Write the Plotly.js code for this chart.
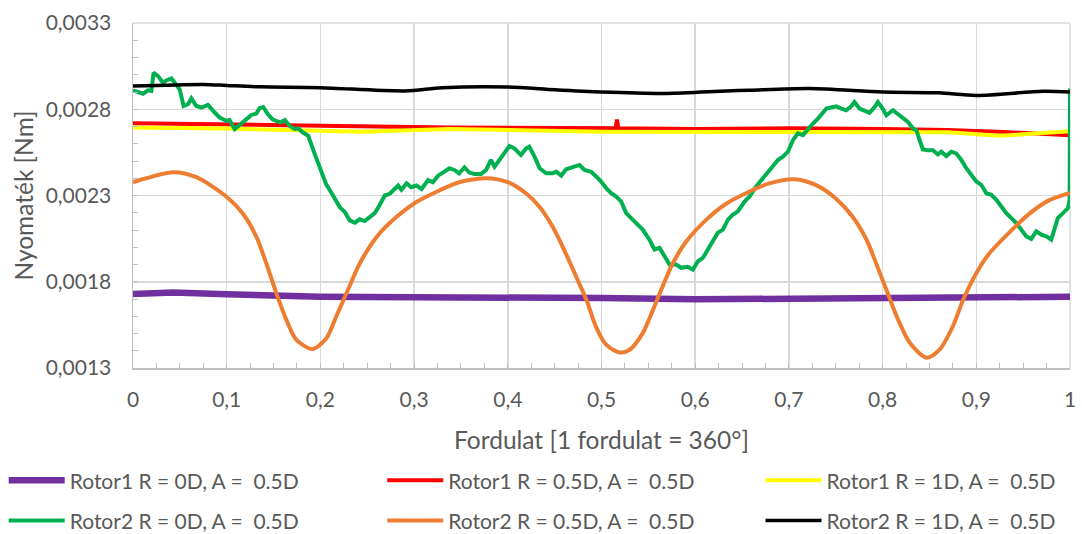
<!DOCTYPE html>
<html>
<head>
<meta charset="utf-8">
<script src="https://cdn.plot.ly/plotly-3.0.1.min.js"></script>
<style>html,body{margin:0;padding:0;background:#fff;}#chart{width:1082px;height:534px;}</style>
</head>
<body>
<div id="chart"></div>
<script>
// Series names
const names = [
  "Rotor1 R = 0D, A =  0.5D",
  "Rotor1 R = 0.5D, A =  0.5D",
  "Rotor1 R = 1D, A =  0.5D",
  "Rotor2 R = 0D, A =  0.5D",
  "Rotor2 R = 0.5D, A =  0.5D",
  "Rotor2 R = 1D, A =  0.5D"
];

// Rotor1 R = 0D
const r1_0_x = [0, 0.043, 0.1, 0.2, 0.3, 0.4, 0.5, 0.6, 0.7, 0.8, 0.9, 1.0];
const r1_0_y = [0.001729, 0.001737, 0.001728, 0.001713, 0.00171, 0.00171, 0.001706, 0.001698, 0.001702, 0.001708, 0.001710, 0.001713];

// Rotor1 R = 0.5D
const r1_05_x = [0, 0.1, 0.2, 0.338, 0.45, 0.515, 0.5165, 0.518, 0.6, 0.7, 0.8, 0.87, 0.93, 1.0];
const r1_05_y = [0.002719, 0.002714, 0.002705, 0.002694, 0.00269, 0.00269, 0.00274, 0.00269, 0.002686, 0.00269, 0.002685, 0.00268, 0.002668, 0.00265];

// Rotor1 R = 1D
const r1_1_x = [0, 0.1, 0.245, 0.338, 0.5, 0.6, 0.7, 0.8, 0.87, 0.925, 1.0];
const r1_1_y = [0.002694, 0.002688, 0.00267, 0.002685, 0.00267, 0.00267, 0.00267, 0.00267, 0.002666, 0.002646, 0.002672];

// Rotor2 R = 0D
const r2_0_x = [0, 0.0053, 0.0107, 0.016, 0.0196, 0.022, 0.0267, 0.032, 0.0356, 0.041, 0.0445, 0.0498, 0.054, 0.0587, 0.0623, 0.0676, 0.073, 0.08, 0.0872, 0.0925, 0.0996, 0.103, 0.1085, 0.114, 0.121, 0.1263, 0.1317, 0.135, 0.139, 0.144, 0.149, 0.157, 0.162, 0.167, 0.1726, 0.176, 0.1815, 0.187, 0.194, 0.199, 0.206, 0.2135, 0.2206, 0.226, 0.2313, 0.2367, 0.242, 0.2473, 0.2527, 0.258, 0.263, 0.2687, 0.274, 0.2776, 0.283, 0.2865, 0.292, 0.297, 0.3025, 0.308, 0.315, 0.32, 0.3256, 0.3324, 0.3377, 0.343, 0.348, 0.3537, 0.359, 0.3644, 0.3715, 0.3769, 0.382, 0.3858, 0.391, 0.3964, 0.4018, 0.407, 0.414, 0.4196, 0.423, 0.4285, 0.434, 0.441, 0.448, 0.4516, 0.457, 0.4623, 0.4694, 0.4765, 0.4819, 0.489, 0.4943, 0.4996, 0.505, 0.5103, 0.5157, 0.521, 0.5263, 0.5317, 0.537, 0.544, 0.5512, 0.5566, 0.562, 0.567, 0.5726, 0.5797, 0.585, 0.592, 0.5975, 0.603, 0.6082, 0.6135, 0.619, 0.624, 0.6295, 0.635, 0.64, 0.6456, 0.6527, 0.658, 0.665, 0.6722, 0.6776, 0.683, 0.6883, 0.6936, 0.699, 0.7043, 0.7096, 0.715, 0.7203, 0.7256, 0.731, 0.7345, 0.74, 0.745, 0.7505, 0.756, 0.761, 0.7665, 0.77, 0.7754, 0.7808, 0.786, 0.7915, 0.795, 0.8, 0.804, 0.811, 0.8164, 0.8217, 0.827, 0.8324, 0.836, 0.8395, 0.843, 0.8484, 0.8537, 0.859, 0.8626, 0.868, 0.8733, 0.8786, 0.884, 0.8893, 0.8947, 0.9, 0.9053, 0.9107, 0.916, 0.9214, 0.9267, 0.932, 0.9374, 0.9427, 0.948, 0.9534, 0.9587, 0.964, 0.9694, 0.9747, 0.98, 0.9836, 0.987, 0.9925, 0.9978, 0.9996, 1.0];
const r2_0_y = [0.00291, 0.002902, 0.00289, 0.00291, 0.002906, 0.003012, 0.002992, 0.002954, 0.002967, 0.002979, 0.002954, 0.002915, 0.002819, 0.002829, 0.002863, 0.002819, 0.00281, 0.002825, 0.002781, 0.002752, 0.002733, 0.002737, 0.002685, 0.00271, 0.002742, 0.002767, 0.002775, 0.002806, 0.002813, 0.002771, 0.002742, 0.002723, 0.002737, 0.002704, 0.002685, 0.00269, 0.002665, 0.002646, 0.00254, 0.002463, 0.002367, 0.0023, 0.002233, 0.002204, 0.002156, 0.002142, 0.002162, 0.002152, 0.002175, 0.002198, 0.002242, 0.0023, 0.00231, 0.002329, 0.002358, 0.002333, 0.002371, 0.002348, 0.002358, 0.002338, 0.00239, 0.002377, 0.002415, 0.002438, 0.002458, 0.002448, 0.002429, 0.002463, 0.002433, 0.002425, 0.002425, 0.002448, 0.002506, 0.002467, 0.002506, 0.002554, 0.002587, 0.002573, 0.002535, 0.002573, 0.002583, 0.002525, 0.002458, 0.002429, 0.002429, 0.002438, 0.002415, 0.002452, 0.002467, 0.002477, 0.002448, 0.002438, 0.00241, 0.002381, 0.002342, 0.002313, 0.002294, 0.002265, 0.002198, 0.002169, 0.00214, 0.002102, 0.002044, 0.001987, 0.001996, 0.001948, 0.0019, 0.0019, 0.001881, 0.001887, 0.001871, 0.001919, 0.001938, 0.001987, 0.002035, 0.002083, 0.002102, 0.00216, 0.002188, 0.002208, 0.002265, 0.002294, 0.002352, 0.0024, 0.002438, 0.002477, 0.002506, 0.002525, 0.002554, 0.002621, 0.00266, 0.00265, 0.002688, 0.002717, 0.002746, 0.002771, 0.002804, 0.00281, 0.002817, 0.002804, 0.002794, 0.002817, 0.002842, 0.002804, 0.002794, 0.002779, 0.002813, 0.002842, 0.002804, 0.002765, 0.002794, 0.002769, 0.002746, 0.002727, 0.002688, 0.002679, 0.002621, 0.002567, 0.002563, 0.002563, 0.002538, 0.002554, 0.002529, 0.002554, 0.002544, 0.002506, 0.002458, 0.002419, 0.002381, 0.002362, 0.002313, 0.002304, 0.002275, 0.002236, 0.002198, 0.002169, 0.00214, 0.002102, 0.002063, 0.002048, 0.002092, 0.002073, 0.002063, 0.002044, 0.002102, 0.002169, 0.002198, 0.002227, 0.002275, 0.00292];

// Rotor2 R = 0.5D
const r2_05_x = [0, 0.043, 0.0676, 0.1004, 0.1174, 0.1317, 0.1423, 0.153, 0.1637, 0.1744, 0.1915, 0.2064, 0.217, 0.2278, 0.242, 0.26, 0.281, 0.3025, 0.327, 0.348, 0.377, 0.4, 0.42, 0.434, 0.448, 0.462, 0.473, 0.484, 0.494, 0.505, 0.519, 0.53, 0.544, 0.555, 0.565, 0.576, 0.59, 0.612, 0.633, 0.658, 0.679, 0.706, 0.729, 0.75, 0.768, 0.783, 0.793, 0.804, 0.815, 0.829, 0.847, 0.861, 0.875, 0.886, 0.9, 0.914, 0.936, 0.957, 0.978, 1.0];
const r2_05_y = [0.002377, 0.002435, 0.002406, 0.00229, 0.002194, 0.00206, 0.001906, 0.001733, 0.001579, 0.001463, 0.00141, 0.001473, 0.0016, 0.001733, 0.001906, 0.00206, 0.002175, 0.002262, 0.002329, 0.002377, 0.0024, 0.002377, 0.00231, 0.002233, 0.002117, 0.001963, 0.001829, 0.001694, 0.00154, 0.001435, 0.00139, 0.001406, 0.001502, 0.001637, 0.00177, 0.001906, 0.00203, 0.00216, 0.002252, 0.002323, 0.00237, 0.002394, 0.00236, 0.002283, 0.002177, 0.002042, 0.001908, 0.001754, 0.0016, 0.001446, 0.00136, 0.001408, 0.001542, 0.001696, 0.00185, 0.001965, 0.00209, 0.002196, 0.002273, 0.002315];

// Rotor2 R = 1D
const r2_1_x = [0, 0.075, 0.1, 0.135, 0.2, 0.29, 0.33, 0.4, 0.45, 0.5, 0.569, 0.633, 0.658, 0.722, 0.8, 0.86, 0.9, 0.971, 1.0];
const r2_1_y = [0.002935, 0.002944, 0.002938, 0.00293, 0.002925, 0.002906, 0.002925, 0.002929, 0.002913, 0.0029, 0.002892, 0.002906, 0.00291, 0.00292, 0.0029, 0.002895, 0.00288, 0.002904, 0.0029];

// Axis ticks
const yTicks = [0.0013, 0.0018, 0.0023, 0.0028, 0.0033];
const yTickText = ["0,0013", "0,0018", "0,0023", "0,0028", "0,0033"];
const xTicks = [0, 0.1, 0.2, 0.3, 0.4, 0.5, 0.6, 0.7, 0.8, 0.9, 1];
const xTickText = ["0", "0,1", "0,2", "0,3", "0,4", "0,5", "0,6", "0,7", "0,8", "0,9", "1"];

const colors = ["#7030a0", "#ff0000", "#ffff00", "#00b050", "#ed7d31", "#000000"];
const widths = [6.5, 4, 4, 4, 4, 3.5];
const shapes = ["linear", "linear", "linear", "linear", "spline", "spline"];
const legendIds = ["legend", "legend2", "legend3", "legend", "legend2", "legend3"];
const xs = [r1_0_x, r1_05_x, r1_1_x, r2_0_x, r2_05_x, r2_1_x];
const ys = [r1_0_y, r1_05_y, r1_1_y, r2_0_y, r2_05_y, r2_1_y];

const FONT = "Lato, 'Open Sans', sans-serif";
const TXT = "#595959";

const traces = names.map((n, i) => ({
  type: "scatter", mode: "lines", name: n,
  x: xs[i], y: ys[i],
  line: {color: colors[i], width: widths[i], shape: shapes[i], smoothing: 0.8},
  legend: legendIds[i],
  legendgroup: "g" + i,
  hoverinfo: "skip"
}));

const legendBase = {
  orientation: "v", xanchor: "left", yanchor: "top",
  y: -0.2671, font: {family: FONT, size: 21, color: TXT},
  bgcolor: "rgba(0,0,0,0)", itemwidth: 56, tracegroupgap: 10,
  itemclick: false, itemdoubleclick: false
};

const layout = {
  width: 1082, height: 534,
  margin: {l: 133, r: 12, t: 23, b: 166, pad: 0, autoexpand: false},
  paper_bgcolor: "#ffffff", plot_bgcolor: "#ffffff",
  font: {family: FONT, color: TXT, size: 21},
  showlegend: true,
  legend: Object.assign({}, legendBase, {x: -0.138}),
  legend2: Object.assign({}, legendBase, {x: 0.266}),
  legend3: Object.assign({}, legendBase, {x: 0.6697}),
  xaxis: {
    range: [0, 1], tickmode: "array", tickvals: xTicks, ticktext: xTickText,
    showgrid: true, gridcolor: "#d9d9d9", gridwidth: 1.5,
    showline: true, linecolor: "#bfbfbf", linewidth: 1.5,
    ticks: "inside", ticklen: 5, tickcolor: "#bfbfbf",
    minor: {dtick: 0.025, ticks: "inside", ticklen: 5, tickcolor: "#bfbfbf", showgrid: false},
    zeroline: false, ticklabelstandoff: 12,
    tickfont: {family: FONT, size: 21, color: TXT},
    title: {text: "Fordulat [1 fordulat = 360°]", font: {family: FONT, size: 24.5, color: TXT}, standoff: 22},
    automargin: false, fixedrange: true
  },
  yaxis: {
    range: [0.0013, 0.0033], tickmode: "array", tickvals: yTicks, ticktext: yTickText,
    showgrid: true, gridcolor: "#d9d9d9", gridwidth: 1.5,
    showline: true, linecolor: "#bfbfbf", linewidth: 1.5,
    ticks: "inside", ticklen: 5, tickcolor: "#bfbfbf",
    minor: {dtick: 0.0001, ticks: "inside", ticklen: 5, tickcolor: "#bfbfbf", showgrid: false},
    zeroline: false, ticklabelstandoff: 16,
    tickfont: {family: FONT, size: 21, color: TXT},
    title: {text: "Nyomaték [Nm]", font: {family: FONT, size: 24.5, color: TXT}, standoff: 5},
    automargin: false, fixedrange: true
  },
  shapes: [
    {type: "line", xref: "paper", yref: "paper", x0: 1, x1: 1, y0: 0, y1: 1, line: {color: "#d9d9d9", width: 1.5}, layer: "below"},
    {type: "line", xref: "paper", yref: "paper", x0: 0, x1: 1, y0: 1, y1: 1, line: {color: "#d9d9d9", width: 1.5}, layer: "below"}
  ]
};

Plotly.newPlot("chart", traces, layout, {staticPlot: true, displayModeBar: false});
</script>
</body>
</html>
